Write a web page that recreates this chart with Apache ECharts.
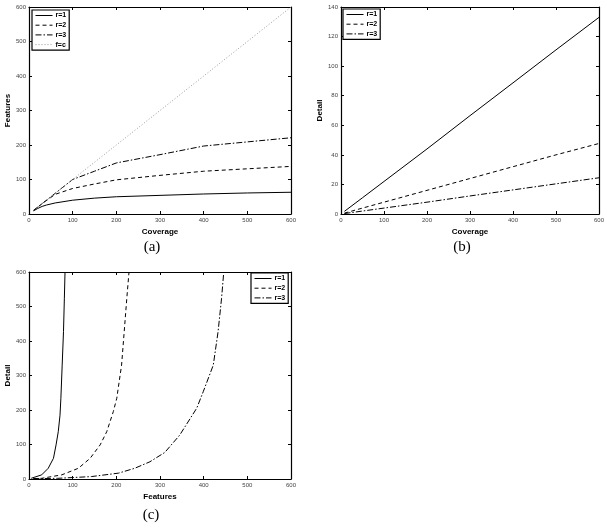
<!DOCTYPE html>
<html>
<head>
<meta charset="utf-8">
<script src="https://cdn.jsdelivr.net/npm/echarts@6/dist/echarts.min.js"></script>
<style>
html, body { margin: 0; padding: 0; background: #fff; }
#main { width: 607px; height: 530px; }
</style>
</head>
<body>
<div id="main"></div>
<script>
// (a) Features vs Coverage
var coverageA = [10, 20, 30, 40, 60, 100, 150, 200, 300, 400, 500, 600];
var featR1 = [9, 16, 22, 26, 32, 40, 46, 50, 54, 58, 61, 63];
var featR2 = [10, 20, 30, 39, 57, 74, 87, 99, 112, 124, 131, 138];
var featR3 = [10, 20, 30, 40, 60, 100, 124, 148, 172, 197, 209, 221];
var featFC = [10, 20, 30, 40, 60, 100, 150, 200, 300, 400, 500, 600];

// (b) Detail vs Coverage
var coverageB = [8, 50, 100, 200, 300, 400, 500, 600];
var detR1 = [1.8, 11, 22, 44, 66.5, 88.7, 111, 133];
var detR2 = [0.6, 4, 8, 16, 24, 32, 40, 47.7];
var detR3 = [0.3, 2, 4, 8, 12.2, 16.3, 20.4, 24.5];

// (c) Detail vs Features
var featC1 = [5, 29, 44, 56, 62, 67, 71, 73, 76, 79, 81, 82.5];
var detC1 = [2, 12, 31, 60, 99, 137, 185, 234, 330, 427, 524, 600];
var featC2 = [10, 29, 75, 113, 140, 163, 178, 193, 201, 212, 218, 224, 229];
var detC2 = [1, 2, 12, 31, 60, 99, 137, 195, 234, 330, 427, 524, 600];
var featC3 = [10, 66, 143, 205, 242, 277, 311, 345, 384, 399, 422, 433, 441, 446];
var detC3 = [1, 2, 7, 17, 31, 50, 77, 127, 205, 253, 330, 427, 524, 600];

var names = ['r=1', 'r=2', 'r=3'];
var captions = ['(a)', '(b)', '(c)'];

var FONT = '"Liberation Sans", Arial, sans-serif';
var dashR2 = [4, 3];
var dashR3 = [6, 2, 1.5, 2];

var myChart = echarts.init(document.getElementById('main'));

function pairs(xs, ys) {
	var out = [];
	for (var i = 0; i < xs.length; i++) {
		out.push([xs[i], ys[i]]);
	}
	return out;
}

var axisLine = { onZero: false, lineStyle: { color: '#000', width: 1.2 } };
var axisTick = { inside: true, length: 3, lineStyle: { color: '#000', width: 1 } };
var titleStyle = { fontFamily: FONT, fontSize: 8, fontWeight: 'bold', color: '#000' };

// bottom + top x axes (top one only for the box ticks)
function makeX(grid, name, max, step) {
	return [{
		gridIndex: grid, type: 'value', min: 0, max: max, interval: step,
		name: name, nameLocation: 'middle', nameGap: 14, nameTextStyle: titleStyle,
		axisLine: axisLine, axisTick: axisTick,
		axisLabel: { fontFamily: FONT, fontSize: 6, color: '#444', margin: 3 },
		splitLine: { show: false }
	}, {
		gridIndex: grid, type: 'value', position: 'top', min: 0, max: max, interval: step,
		axisLine: axisLine, axisTick: axisTick, axisLabel: { show: false }, splitLine: { show: false }
	}];
}

function makeY(grid, name, max, step) {
	return [{
		gridIndex: grid, type: 'value', min: 0, max: max, interval: step,
		name: name, nameLocation: 'middle', nameGap: 16, nameTextStyle: titleStyle,
		axisLine: axisLine, axisTick: axisTick,
		axisLabel: { fontFamily: FONT, fontSize: 6, color: '#444', margin: 3 },
		splitLine: { show: false }
	}, {
		gridIndex: grid, type: 'value', position: 'right', min: 0, max: max, interval: step,
		axisLine: axisLine, axisTick: axisTick, axisLabel: { show: false }, splitLine: { show: false }
	}];
}

function line(name, axis, data, type, color) {
	return {
		name: name, type: 'line', xAxisIndex: axis, yAxisIndex: axis,
		data: data, symbol: 'none', showSymbol: false, silent: true,
		lineStyle: { color: color || '#000', width: 1, type: type },
		itemStyle: { color: color || '#000' },
		z: 3
	};
}

function legendAt(left, top, list) {
	return {
		data: list, orient: 'vertical', left: left, top: top,
		itemWidth: 17, itemHeight: 8, itemGap: 2.7,
		padding: [2, 3, 2, 3], borderColor: '#000', borderWidth: 1.2,
		backgroundColor: '#fff', selectedMode: false,
		// hide the marker dot, keep only the line sample
		itemStyle: { color: 'rgba(0,0,0,0)', borderColor: 'rgba(0,0,0,0)', borderWidth: 0, opacity: 0 },
		lineStyle: { width: 1 },
		textStyle: { fontFamily: FONT, fontSize: 7, fontWeight: 'bold', color: '#000', padding: [0, 0, 0, -2] }
	};
}

var xs = [].concat(makeX(0, 'Coverage', 600, 100), makeX(1, 'Coverage', 600, 100), makeX(2, 'Features', 600, 100));
var ys = [].concat(makeY(0, 'Features', 600, 100), makeY(1, 'Detail', 140, 20), makeY(2, 'Detail', 600, 100));

var series = [
	line('r=1', 0, pairs(coverageA, featR1), 'solid'),
	line('r=2', 0, pairs(coverageA, featR2), dashR2),
	line('r=3', 0, pairs(coverageA, featR3), dashR3),
	line('f=c', 0, pairs(coverageA, featFC), [1, 2], '#999'),
	line('r=1', 2, pairs(coverageB, detR1), 'solid'),
	line('r=2', 2, pairs(coverageB, detR2), dashR2),
	line('r=3', 2, pairs(coverageB, detR3), dashR3),
	line('r=1', 4, pairs(featC1, detC1), 'solid'),
	line('r=2', 4, pairs(featC2, detC2), dashR2),
	line('r=3', 4, pairs(featC3, detC3), dashR3)
];

var capPos = [[152, 247], [462, 247], [151, 515]];
var graphics = [];
for (var i = 0; i < captions.length; i++) {
	graphics.push({
		type: 'text', x: capPos[i][0], y: capPos[i][1], silent: true,
		style: { text: captions[i], fill: '#000', font: '15px "Liberation Serif", serif', textAlign: 'center', textVerticalAlign: 'middle' }
	});
}

var option = {
	animation: false,
	backgroundColor: '#fff',
	grid: [
		{ left: 29, top: 7, width: 262, height: 207 },
		{ left: 341, top: 7, width: 262, height: 207 },
		{ left: 29, top: 272, width: 262, height: 207 }
	],
	legend: [
		legendAt(32, 10, names.concat(['f=c'])),
		legendAt(343, 9, names),
		legendAt(251, 273, names)
	],
	xAxis: xs,
	yAxis: ys,
	series: series,
	graphic: graphics
};
myChart.setOption(option);
</script>
</body>
</html>
